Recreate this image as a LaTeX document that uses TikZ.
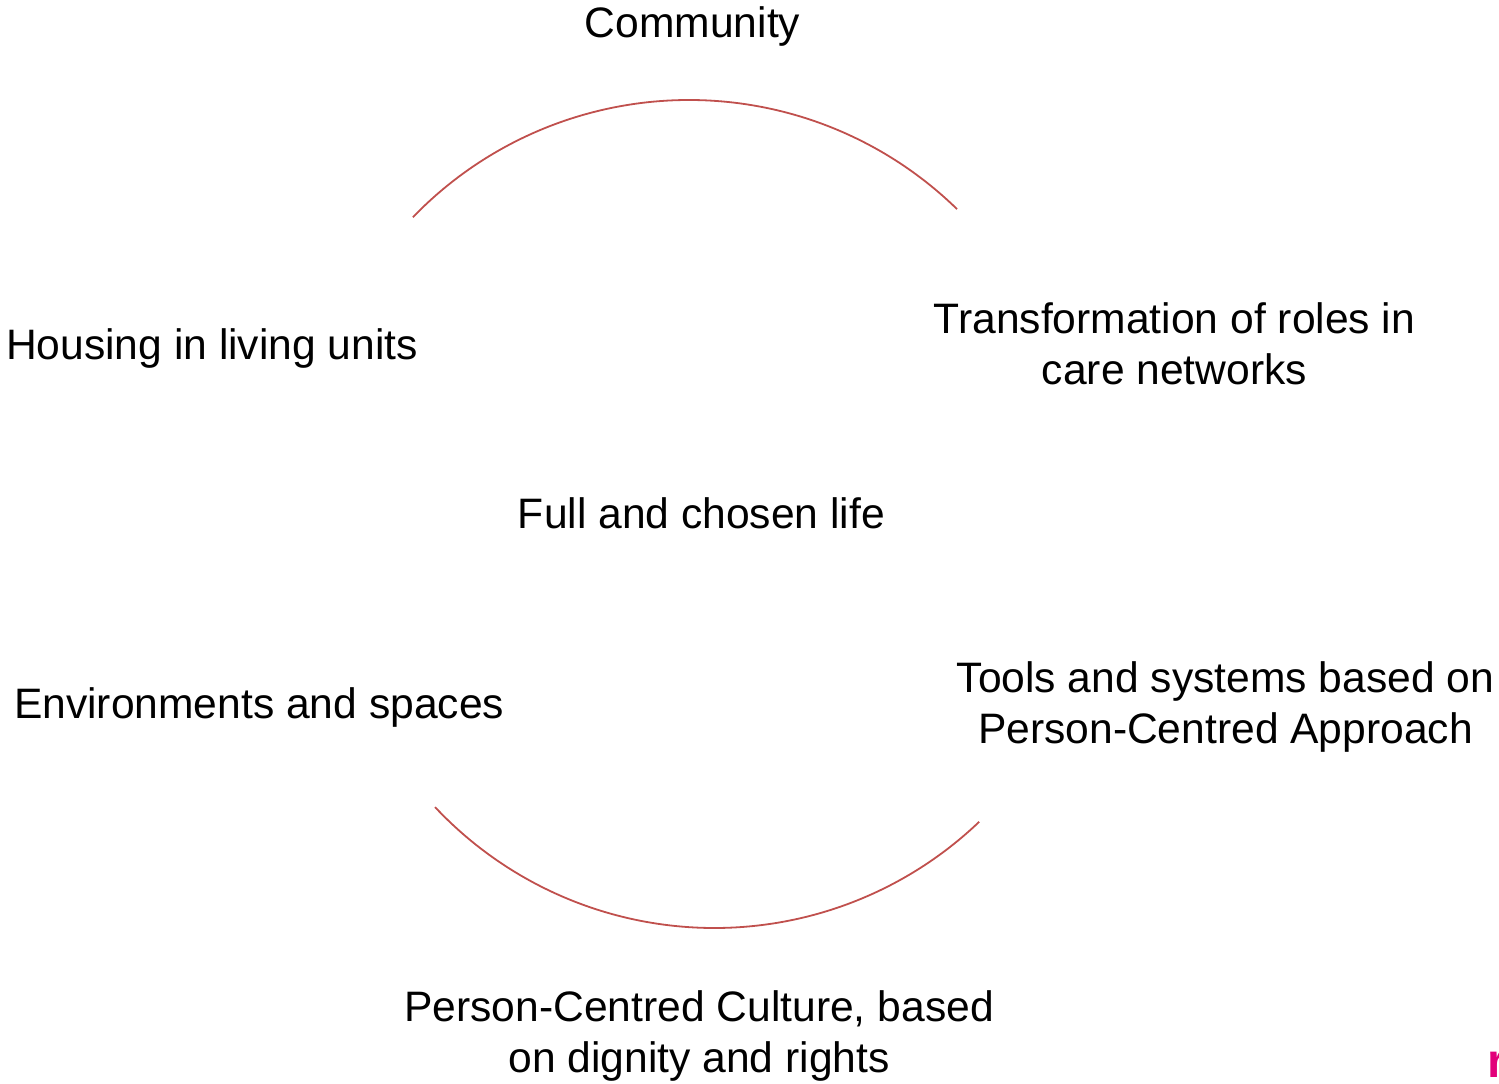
\documentclass[tikz,border=0pt]{standalone}
\usepackage{fontspec}
\setmainfont{Liberation Sans}
\usetikzlibrary{calc}
\begin{document}
\begin{tikzpicture}[x=0.5pt,y=0.5pt,
  label/.style={inner sep=0pt, outer sep=0pt, align=center,
    font=\fontsize{21.3}{25.5}\selectfont, text=black},
  arcline/.style={draw=arcred, line width=0.9pt},
  mark glyph/.style={inner sep=0pt, outer sep=0pt,
    font=\fontsize{24}{28}\selectfont\bfseries, text=brandpink}]
\definecolor{arcred}{HTML}{C0504D}
\definecolor{brandpink}{HTML}{E2007A}
\useasboundingbox (0,0) rectangle (1499,-1083);

% labels (two-line labels are placed by the baseline of their last line)
\node[label, anchor=base] (community) at (692.5,-37) {Community};
\node[label, anchor=base west] (housing) at (6,-359) {Housing in living units};
\node[label, anchor=base] (roles) at (1174.5,-384) {Transformation of roles in\\care networks};
\node[label, anchor=base] (life) at (701.5,-528) {Full and chosen life};
\node[label, anchor=base west] (environments) at (14,-718) {Environments and spaces};
\node[label, anchor=base] (tools) at (1225.5,-743) {Tools and systems based on\\Person-Centred Approach};
\node[label, anchor=base] (culture) at (699,-1072) {Person-Centred Culture, based\\on dignity and rights};

% the two arcs of the circle
\coordinate (topc) at (689,-483.8);
\coordinate (botc) at (714.4,-544.8);
\draw[arcline] ($(topc)+(136:383.8)$) arc[start angle=136, end angle=45.7, radius=383.8];
\draw[arcline] ($(botc)+(223.2:383.2)$) arc[start angle=223.2, end angle=313.7, radius=383.2];

% corner glyph, running off the right edge
\node[mark glyph, anchor=base west] (corner) at (1487,-1077) {r};
\end{tikzpicture}
\end{document}
